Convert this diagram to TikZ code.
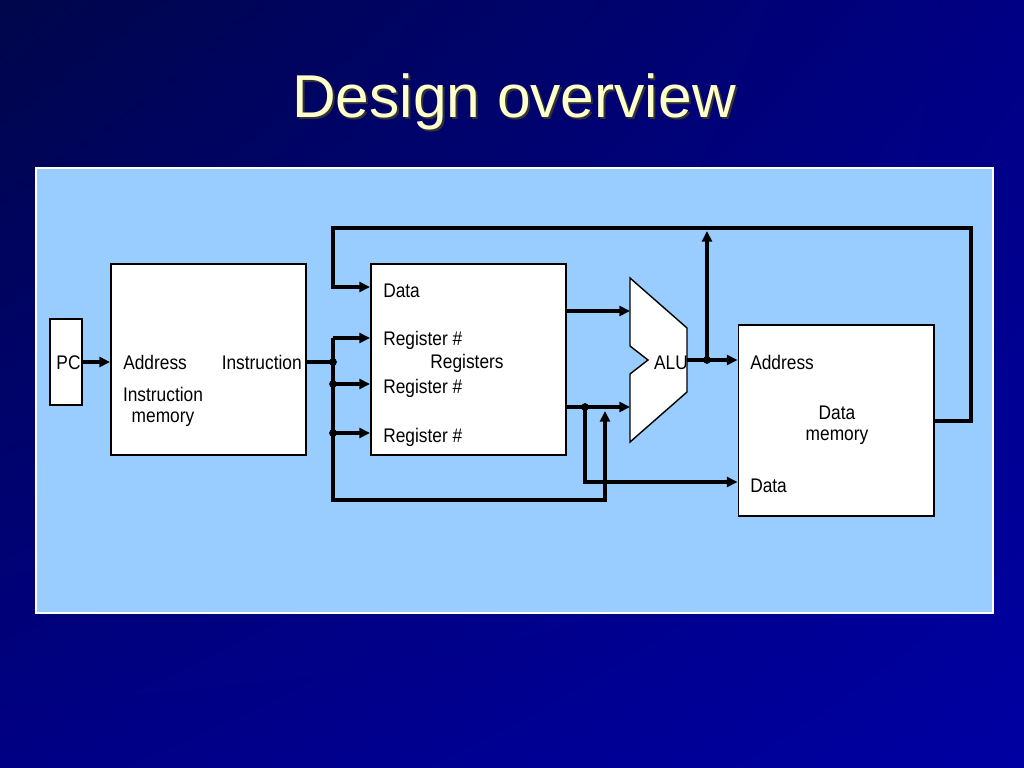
\documentclass[tikz,border=0pt]{standalone}
\usepackage{fontspec}
\setmainfont{Liberation Sans}
\newfontfamily\diagfont[FakeStretch=0.88]{Liberation Sans}
\usepackage{tikz}
\usetikzlibrary{arrows.meta,shadings}
\definecolor{slidetop}{HTML}{00064A}
\definecolor{slidemid}{HTML}{000084}
\definecolor{slidelow}{HTML}{0000A2}
\definecolor{panel}{HTML}{99CCFF}
\definecolor{titlecol}{HTML}{FFFFCC}
\tikzset{
	>={Triangle[length=7.5pt,width=7pt]}, % small filled heads
	block/.style={draw, line width=1.4pt, fill=white, minimum width=4.875cm, minimum height=4.775cm, inner sep=0pt},
	port/.style={font=\diagfont\fontsize{14}{14.5}\selectfont, inner sep=0pt},
	wire/.style={line width=2.3pt},
	bus/.style={wire, ->}, % wire that ends in an input
	joint/.style={circle, fill, inner sep=0pt, minimum size=5.5pt},
	title/.style={font=\fontsize{43}{50}\selectfont, inner sep=0pt},
}

\begin{document}
\begin{tikzpicture}[x=0.025cm, y=-0.025cm]
	\useasboundingbox (0,0) rectangle (1024,768);
	% slide
	\shade[upper left=slidetop, upper right=slidemid, lower left=slidemid, lower right=slidelow] (0,0) rectangle (1024,768);
	\node[title, text=black!80, anchor=base] at (516,120) {Design overview};
	\node[title, text=titlecol, anchor=base] (head) at (514,118) {Design overview};
	\draw[white, line width=0.8pt, fill=panel] (36,168) rectangle (993,613);

	% blocks
	\node[block, minimum width=0.8cm, minimum height=2.15cm] (pc) at (66,362) {};
	\node[port, anchor=base] (pctxt) at (68.5,369) {PC};
	\node[block] (imem) at (208.5,359.5) {};
	\node[block] (regs) at (468.5,359.5) {};
	\node[block] (dmem) at (836,420.5) {};
	\draw[line width=1pt, fill=white] (630,278) -- (687,328) -- (687,392) -- (630,442) -- (630,374) -- (648,360) -- (630,346) -- cycle;
	\node[port, anchor=base] (alu) at (671,369) {ALU};

	% texts in the blocks (base of a two-line text = its last line)
	\node[port, anchor=base west] (imaddr) at (123,369) {Address};
	\node[port, anchor=base east] (iminst) at (302,369) {Instruction};
	\node[port, anchor=base, align=center] (imname) at (163,422) {Instruction\\memory};
	\node[port, anchor=base west] (rdata) at (383,297) {Data};
	\node[port, anchor=base west] (regA) at (383,345) {Register \#};
	\node[port, anchor=base] (rname) at (467,368) {Registers};
	\node[port, anchor=base west] (regB) at (383,393) {Register \#};
	\node[port, anchor=base west] (regW) at (383,442) {Register \#};
	\node[port, anchor=base west] (daddr) at (750,369) {Address};
	\node[port, anchor=base, align=center] (dname) at (837,440) {Data\\memory};
	\node[port, anchor=base west] (dwrite) at (750,492) {Data};

	% bends of the wires
	\coordinate (split) at (333,362);
	\coordinate (rowA) at (333,338);
	\coordinate (rowB) at (333,384);
	\coordinate (rowW) at (333,433);
	\coordinate (rowE) at (333,500);
	\coordinate (imm) at (605,411);
	\coordinate (aluA) at (630,311);
	\coordinate (aluB) at (630,407);
	\coordinate (aluout) at (687,360);
	\coordinate (bfork) at (585,407);
	\coordinate (qfork) at (707,360);
	\coordinate (qtap) at (707,231);
	\coordinate (memout) at (934,421);
	\coordinate (wbR) at (971,228);
	\coordinate (wbL) at (333,228);
	\coordinate (wrrow) at (333,287);
	\coordinate (strow) at (585,482);

	% wires
	\draw[bus] (pc.east |- split) -- (imem.west |- split);
	\draw[wire] (imem.east |- split) -- (split);
	\draw[bus] (rowA) -- (rowA -| regs.west);
	\draw[bus] (rowA) -- (rowE) -| (imm);
	\draw[bus] (rowB) -- (rowB -| regs.west);
	\draw[bus] (rowW) -- (rowW -| regs.west);
	\draw[bus] (aluA -| regs.east) -- (aluA);
	\draw[bus] (aluB -| regs.east) -- (aluB);
	\draw[bus] (bfork) |- (strow -| dmem.west);
	\draw[bus] (aluout) -- (aluout -| dmem.west);
	\draw[bus] (qfork) -- (qtap);
	\draw[bus] (memout) -| (wbR) -- (wbL) |- (wrrow -| regs.west);

	% joints
	\foreach \j in {split, rowB, rowW, bfork, qfork}
		\node[joint] at (\j) {};
\end{tikzpicture}
\end{document}
